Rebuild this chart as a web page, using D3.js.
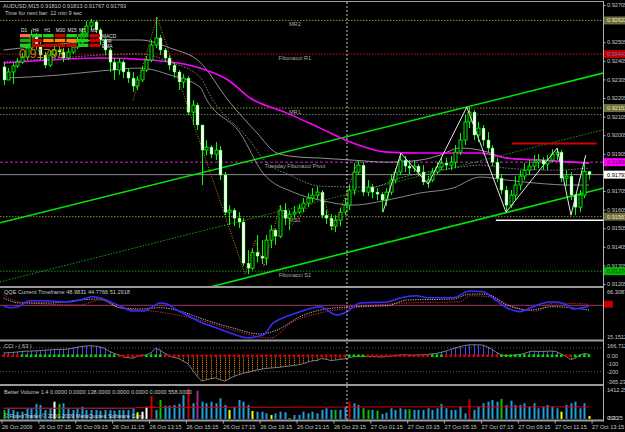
<!DOCTYPE html>
<html>
<head>
<meta charset="utf-8">
<script src="https://cdn.jsdelivr.net/npm/d3@7"></script>
<style>
  body { margin: 0; background: #000; }
  svg { display: block; }
  text { font-family: "Liberation Sans", Arial, sans-serif; }
</style>
</head>
<body>
<svg id="chart"></svg>
<script>
// ---- data ----
const firstOpen = 0.92372;
const closes = [
  0.92302,0.92345,0.92377,0.92398,0.92425,0.92474,0.92544,0.92490,0.92436,0.92382,
  0.92436,0.92463,0.92452,0.92420,0.92452,0.92479,0.92506,0.92554,0.92592,0.92614,
  0.92571,0.92517,0.92463,0.92398,0.92355,0.92398,0.92345,0.92312,0.92269,0.92302,
  0.92355,0.92409,0.92490,0.92528,0.92463,0.92420,0.92382,0.92345,0.92291,0.92312,
  0.92129,0.92167,0.92060,0.91925,0.91941,0.91903,0.91925,0.91791,0.91591,0.91602,
  0.91559,0.91538,0.91317,0.91290,0.91376,0.91355,0.91344,0.91441,0.91495,0.91462,
  0.91602,0.91559,0.91581,0.91591,0.91613,0.91640,0.91667,0.91683,0.91699,0.91575,
  0.91559,0.91516,0.91548,0.91591,0.91629,0.91710,0.91807,0.91844,0.91699,0.91726,
  0.91699,0.91688,0.91656,0.91699,0.91764,0.91807,0.91871,0.91839,0.91828,0.91839,
  0.91807,0.91753,0.91764,0.91807,0.91834,0.91855,0.91844,0.91860,0.91914,0.91979,
  0.92076,0.92129,0.92006,0.92043,0.91979,0.91936,0.91860,0.91774,0.91710,0.91629,
  0.91683,0.91737,0.91785,0.91817,0.91839,0.91860,0.91871,0.91850,0.91871,0.91903,
  0.91914,0.91774,0.91785,0.91683,0.91618,0.91683,0.91810,0.91793
];
const highs = [
  0.92398,0.92366,0.92393,0.92420,0.92447,0.92495,0.92571,0.92554,0.92506,0.92452,
  0.92463,0.92485,0.92495,0.92474,0.92474,0.92501,0.92533,0.92581,0.92619,0.92630,
  0.92624,0.92581,0.92528,0.92474,0.92420,0.92420,0.92409,0.92366,0.92345,0.92323,
  0.92377,0.92431,0.92517,0.92641,0.92544,0.92474,0.92436,0.92398,0.92355,0.92334,
  0.92323,0.92194,0.92178,0.92060,0.91979,0.91952,0.91968,0.91947,0.91807,0.91629,
  0.91613,0.91591,0.91559,0.91387,0.91398,0.91468,0.91441,0.91468,0.91522,0.91505,
  0.91629,0.91640,0.91602,0.91624,0.91634,0.91667,0.91694,0.91721,0.91731,0.91710,
  0.91602,0.91581,0.91575,0.91613,0.91667,0.91737,0.91855,0.91871,0.91860,0.91764,
  0.91742,0.91721,0.91699,0.91721,0.91796,0.91828,0.91909,0.91893,0.91871,0.91871,
  0.91850,0.91844,0.91785,0.91828,0.91860,0.91882,0.91882,0.91893,0.91952,0.92017,
  0.92113,0.92156,0.92140,0.92076,0.92060,0.92022,0.91952,0.91882,0.91796,0.91731,
  0.91710,0.91785,0.91817,0.91855,0.91871,0.91898,0.91903,0.91887,0.91898,0.91930,
  0.91936,0.91925,0.91817,0.91807,0.91688,0.91710,0.91882,0.91813
];
const lows = [
  0.92275,0.92312,0.92280,0.92366,0.92388,0.92409,0.92463,0.92463,0.92409,0.92366,
  0.92372,0.92425,0.92431,0.92398,0.92409,0.92442,0.92468,0.92490,0.92538,0.92571,
  0.92554,0.92490,0.92436,0.92345,0.92302,0.92329,0.92312,0.92286,0.92237,0.92248,
  0.92291,0.92345,0.92398,0.92474,0.92436,0.92398,0.92355,0.92312,0.92248,0.92259,
  0.92113,0.92060,0.92033,0.91737,0.91898,0.91882,0.91871,0.91764,0.91575,0.91522,
  0.91516,0.91505,0.91301,0.91258,0.91279,0.91322,0.91312,0.91306,0.91398,0.91414,
  0.91452,0.91522,0.91495,0.91559,0.91581,0.91591,0.91618,0.91645,0.91656,0.91559,
  0.91527,0.91495,0.91484,0.91516,0.91575,0.91602,0.91683,0.91791,0.91678,0.91678,
  0.91667,0.91656,0.91591,0.91624,0.91683,0.91747,0.91791,0.91807,0.91796,0.91807,
  0.91785,0.91737,0.91721,0.91753,0.91796,0.91817,0.91817,0.91817,0.91828,0.91898,
  0.91952,0.92043,0.91979,0.91968,0.91947,0.91914,0.91839,0.91753,0.91688,0.91591,
  0.91613,0.91656,0.91710,0.91764,0.91791,0.91817,0.91828,0.91817,0.91817,0.91860,
  0.91871,0.91753,0.91731,0.91656,0.91575,0.91591,0.91667,0.91767
];

// moving averages / bands, knots as [bar, price]
const magentaMA = [[0,0.92393],[10.1,0.92409],[20.9,0.92420],[32,0.92409],[42.6,0.92366],[48.7,0.92302],[53.5,0.92205],[61,0.92129],[68.7,0.92043],[75.8,0.91963],[83.2,0.91914],[90.3,0.91909],[103.4,0.91909],[109.2,0.91882],[116.4,0.91871],[123.5,0.91860],[127,0.91855]];
const bandUpper = [[0,0.92463],[5.7,0.92479],[12.3,0.92495],[20.9,0.92517],[29.6,0.92517],[36.1,0.92474],[42.6,0.92398],[48.7,0.92194],[55,0.92017],[59.3,0.91909],[64.3,0.91887],[68.7,0.91882],[75.8,0.91871],[83.2,0.91860],[90.3,0.91871],[94.7,0.91898],[99,0.91936],[103.4,0.91925],[109.2,0.91882],[116.4,0.91871],[123.5,0.91860],[127,0.91855]];
const bandMiddle = [[0,0.92398],[5.7,0.92409],[12.3,0.92420],[20.9,0.92436],[29.6,0.92442],[36.1,0.92398],[42.6,0.92318],[45.4,0.92194],[52.8,0.91995],[57.2,0.91855],[62.1,0.91791],[68.7,0.91731],[79.5,0.91726],[86.7,0.91780],[97.5,0.91828],[103.4,0.91844],[109.2,0.91828],[119.2,0.91817],[127,0.91828]];
const bandLower = [[0,0.92312],[5.7,0.92318],[12.3,0.92329],[20.9,0.92350],[29.6,0.92366],[36.1,0.92329],[42.6,0.92264],[44.1,0.92194],[51.3,0.92017],[56.3,0.91801],[62.8,0.91699],[68.7,0.91656],[75.8,0.91629],[83.2,0.91656],[90.3,0.91694],[97.5,0.91721],[103.4,0.91780],[109.2,0.91764],[115.7,0.91747],[122.9,0.91737],[127,0.91737]];

// zigzags and trend channel, [bar, price]
const orangeZigzag = [[28.1,0.92194],[33.3,0.92641],[52.4,0.91258],[54.6,0.91441],[56.5,0.91301],[60,0.91629],[62.6,0.91522],[69.1,0.91699],[71.5,0.91495],[76.7,0.91855]];
const whiteZigzag = [[82.3,0.91591],[86.2,0.91909],[92.1,0.91742],[100.5,0.92156],[109,0.91591],[120.1,0.91936],[123.1,0.91575],[126.3,0.91898]];
const channelUpper = [[0,0.91539],[127,0.92320]];
const channelMiddle = [[0,0.91221],[127,0.92015]];
const channelLower = [[0,0.90910],[127,0.91701]];
const resistanceLine = [[110.3,0.91960],[128.7,0.91960]];
const supportLine = [[106.8,0.91548],[131,0.91548]];

// pivot levels
const levelNames = ["MR2","Fibonacci R1","MR1","Tuesday  Fibonacci Pivot","MS1","Fibonacci S1"];
const levelPrices = [0.92622,0.92441,0.92151,0.91860,0.91567,0.91274];
const levelKinds = ["mid","fibR","mid","pivot","mid","fibS"];
const extraLevel = 0.92116;
const currentPrice = 0.91793;
const priceTicks = [0.92705,0.92505,0.92405,0.92305,0.92205,0.92105,0.92005,0.91905,0.91705,0.91605,0.91505,0.91405,0.91305,0.91205];

// QQE, knots as [bar, value]
const qqeMain = [[0,49.6],[1.4,47.4],[3.1,48.5],[5.7,55.2],[10.1,54.9],[13.8,53.7],[16.6,56.0],[19.2,59.6],[20.9,58.5],[23.1,54.1],[25.3,49.3],[28.1,43.7],[30.3,43.7],[32.4,48.5],[33.9,52.6],[35.5,51.5],[37.6,44.8],[39.8,39.1],[42.6,31.8],[46.3,24.8],[49.8,18.1],[52.8,14.0],[56.3,17.0],[58.5,30.4],[60.6,36.0],[64.3,42.9],[68.7,48.5],[72.3,39.3],[74.5,43.0],[77.3,52.6],[83.2,53.7],[86,58.2],[89.7,60.7],[91.9,58.5],[97.5,58.5],[101.2,66.0],[104,65.2],[106.2,58.2],[109.2,47.1],[112,43.0],[114.2,47.1],[116.4,51.5],[119.2,54.1],[122.2,50.4],[123.5,46.0],[126.6,48.5],[127,48.98]];
const qqeSlow = [[0,58.2],[3.6,52.6],[10.1,52.6],[16.6,56.0],[20.9,57.1],[25.3,47.4],[29.6,46.0],[33.9,47.4],[38.3,43.7],[42.6,35.9],[49.8,24.8],[55.6,18.1],[59.3,22.5],[64.3,37.4],[68.7,44.8],[75.8,48.5],[83.2,49.6],[87.5,55.9],[97.5,57.1],[101.2,62.6],[104.9,62.3],[109.2,50.4],[114.2,44.8],[119.2,48.5],[127,44.78]];
const qqeTrail = [[0,61.5],[3.6,53.7],[16.6,50.4],[20.9,56.0],[25.3,47.1],[33.3,43.0],[42.6,33.7],[49.8,22.6],[57.8,13.7],[62.8,31.8],[68.7,41.5],[75.8,47.1],[86.7,52.6],[99,54.1],[101.2,60.7],[105.5,59.6],[110.5,48.5],[115.7,43.7],[119.2,52.6],[127,51.29]];

// CCI(63) per bar and trend dots (r = down, g = up)
const cci = [
  35,38,42,48,55,58,60,62,65,70,
  75,78,80,82,85,95,108,118,125,128,
  120,110,90,55,30,12,-15,-25,-30,-10,
  10,5,40,95,70,30,-5,-20,-35,-70,
  -100,-180,-260,-320,-305,-290,-280,-305,-320,-290,
  -260,-240,-220,-210,-195,-180,-170,-160,-155,-150,
  -145,-135,-130,-120,-115,-100,-80,-65,-60,-35,
  -45,-60,-55,-45,-40,-25,-10,-8,-10,-12,
  -10,-12,-15,-10,-5,5,10,12,10,8,
  10,12,15,25,30,45,60,80,100,115,
  130,138,140,138,135,110,80,40,10,0,
  5,10,15,30,50,58,55,55,58,60,
  50,20,-5,-50,-30,5,30,15
];
const cciTrend = "rrrr" + "ggggggggggggggggggggg" + "rrrrrr" + "gggg" +
  "rrrrrrrrrrrrrrrrrrrrrrrrrrrrrrrrrrrrrrrr" + "gggg" + "rrrrrrrrrrrrrr" + "ggg" +
  "rrrrrrrrrrrr" + "gggggggggggggg" + "rr" + "gggg";
const cciTicks = [166.712, 0, -100, -200, -365.237];
const cciLevels = [100, -200];

// Better Volume per bar, with bar type
const volumes = [
  414,493,414,335,335,493,493,693,646,414,
  493,800,693,725,493,414,493,567,414,414,
  414,381,414,414,381,414,414,414,493,307,
  335,567,1065,414,879,614,614,646,693,1111,
  1400,725,1310,800,725,800,725,958,646,414,
  567,879,800,646,367,335,335,260,181,260,
  335,307,28,181,181,335,260,335,260,414,
  493,414,414,414,567,800,725,646,493,414,
  414,381,228,288,493,414,493,446,446,414,
  414,414,493,414,493,693,493,414,414,567,
  260,911,414,567,725,800,879,800,925,646,
  846,646,646,725,567,725,493,567,646,567,
  493,335,646,725,800,493,725,138
];
const volumeTypes = "g" + "bbbbbbbbbb" + "w" + "g" + "bbbbbbbbbbbbbbbb" + "y" + "ww" + "r" + "b" + "g" +
  "bbbbb" + "r" + "b" + "m" + "bbbbbb" + "y" + "bbbb" + "y" + "bbb" + "y" + "bbb" + "y" +
  "bbbbbbbbb" + "g" + "bb" + "r" + "bb" + "gg" + "b" + "g" + "bbbbbb" + "g" +
  "bbbbbbbbbbbb" + "r" + "bbbbbb" + "g" + "bbbbbbbbbbbb" + "y" + "bbbbb" + "y";
const volumeAvg = [[0,493],[28,493],[29,530],[60,540],[90,560],[127,558]];
const volTicks = [1412.25, 0, -52.25];
const qqeTicks = [66.3087, 15.1512];

// time axis
const timeTickBars = d3.range(0, 129, 8);
const timeLabels = ["26 Oct 2009","26 Oct 07:15","26 Oct 09:15","26 Oct 11:15","26 Oct 13:15","26 Oct 15:15",
  "26 Oct 17:15","26 Oct 19:15","26 Oct 21:15","26 Oct 23:15","27 Oct 01:15","27 Oct 03:15",
  "27 Oct 05:15","27 Oct 07:15","27 Oct 09:15","27 Oct 11:15","27 Oct 13:15"];
const separatorBar = 75;

// signal panel
const timeframes = ["D1","H4","H1","M30","M15","M5","M1"];
const signalRows = ["MACD","STR","EMA"];
const signalStates = ["wuudund", "ndaaaud", "uddddud"];

// ---- drawing ----
const W = 625, H = 432, AX = 603;
const FS = 5.6, TXT = "#c8c8c8";

const svg = d3.select("#chart").attr("width", W).attr("height", H);
svg.append("rect").attr("width", W).attr("height", H).attr("fill", "#000");

const x = d3.scaleLinear().domain([0, 128]).range([3.5, 593.6]);
const yP = d3.scaleLinear().domain([0.92705, 0.91205]).range([5, 284]);
const yQ = d3.scaleLinear().domain([66.3087, 15.1512]).range([290.7, 336.7]);
const yC = d3.scaleLinear().domain([166.712, -365.237]).range([342.6, 384.6]);
const yV = d3.scaleLinear().domain([1412.25, -52.25]).range([388.5, 420]);

const panes = { main: [2, 286], qqe: [288, 339.5], cci: [341.5, 384], vol: [386, 420] };
const defs = svg.append("defs");
Object.entries(panes).forEach(([k, [t, b]]) => {
  defs.append("clipPath").attr("id", "clip-" + k)
    .append("rect").attr("x", 0).attr("y", t).attr("width", AX).attr("height", b - t);
});
const layer = k => svg.append("g").attr("clip-path", `url(#clip-${k})`);

const curve = (ys, pts) => d3.line().x(d => x(d[0])).y(d => ys(d[1])).curve(d3.curveMonotoneX)(pts);
const straight = (ys, pts) => d3.line().x(d => x(d[0])).y(d => ys(d[1]))(pts);
// extend a two point line over the whole pane
const ray = (ys, pts) => {
  const [a, b] = pts;
  const k = (b[1] - a[1]) / (b[0] - a[0]);
  const i0 = x.invert(0), i1 = x.invert(AX);
  return straight(ys, [[i0, a[1] + k * (i0 - a[0])], [i1, a[1] + k * (i1 - a[0])]]);
};

// ===== main pane =====
const gm = layer("main");

// pivot levels
const levelStyle = {
  mid: { c: "#8c8c2a", d: "1.5,1.5" },
  fibR: { c: "#d01010", d: "1.5,1.5" },
  pivot: { c: "#d020d0", d: "3,2" },
  fibS: { c: "#10a010", d: "1.5,1.5" }
};
gm.append("line").attr("x1", 0).attr("x2", AX).attr("y1", yP(extraLevel)).attr("y2", yP(extraLevel))
  .attr("stroke", "#707070").attr("stroke-dasharray", "1.5,1.5");
levelPrices.forEach((p, i) => {
  const s = levelStyle[levelKinds[i]];
  gm.append("line").attr("x1", 0).attr("x2", AX).attr("y1", yP(p)).attr("y2", yP(p))
    .attr("stroke", s.c).attr("stroke-dasharray", s.d);
  gm.append("text").attr("x", x(63.2)).attr("y", yP(p) + 5.5).attr("text-anchor", "middle")
    .attr("font-size", FS).attr("fill", "#a8a8a8").text(levelNames[i]);
});
gm.append("line").attr("x1", 0).attr("x2", AX).attr("y1", yP(currentPrice)).attr("y2", yP(currentPrice))
  .attr("stroke", "#8a8a8a");

// channel
gm.append("path").attr("d", ray(yP, channelMiddle)).attr("stroke", "#1a9a1a").attr("stroke-width", 1)
  .attr("stroke-dasharray", "1.5,1.5").attr("fill", "none");
[channelUpper, channelLower].forEach(c => {
  gm.append("path").attr("d", ray(yP, c)).attr("stroke", "#00e600").attr("stroke-width", 1.6).attr("fill", "none");
});

// bands and moving average
gm.append("path").attr("d", curve(yP, bandUpper)).attr("stroke", "#b8b8b8").attr("stroke-width", 0.8).attr("fill", "none");
gm.append("path").attr("d", curve(yP, bandMiddle)).attr("stroke", "#a0a0a0").attr("stroke-width", 0.8)
  .attr("stroke-dasharray", "1.5,1.5").attr("fill", "none");
gm.append("path").attr("d", curve(yP, bandLower)).attr("stroke", "#a8a8a8").attr("stroke-width", 0.8).attr("fill", "none");
gm.append("path").attr("d", curve(yP, magentaMA)).attr("stroke", "#ff00ff").attr("stroke-width", 1.6).attr("fill", "none");

// candles
const bars = closes.map((c, i) => {
  const o = i === 0 ? firstOpen : closes[i - 1];
  return { i, o, c, h: Math.max(highs[i], o, c), l: Math.min(lows[i], o, c) };
});
const cg = gm.append("g");
cg.selectAll(".wick").data(bars).join("line")
  .attr("x1", d => Math.round(x(d.i)) + 0.5).attr("x2", d => Math.round(x(d.i)) + 0.5)
  .attr("y1", d => yP(d.h)).attr("y2", d => yP(d.l))
  .attr("stroke", "#00ff00").attr("stroke-width", 1);
cg.selectAll(".body").data(bars).join("rect")
  .attr("x", d => Math.round(x(d.i)) - 1)
  .attr("width", 3)
  .attr("y", d => Math.min(yP(d.o), yP(d.c)))
  .attr("height", d => Math.max(1, Math.abs(yP(d.o) - yP(d.c))))
  .attr("fill", d => d.c < d.o ? "#ffffff" : "#000000")
  .attr("stroke", "#00ff00").attr("stroke-width", d => d.c < d.o ? 0.4 : 0.9);

// zigzags, support/resistance
gm.append("path").attr("d", straight(yP, orangeZigzag)).attr("stroke", "#c8821e").attr("stroke-width", 1)
  .attr("stroke-dasharray", "1,1.5").attr("fill", "none");
gm.append("path").attr("d", straight(yP, whiteZigzag)).attr("stroke", "#e4e4e4").attr("stroke-width", 1).attr("fill", "none");
gm.append("path").attr("d", straight(yP, resistanceLine)).attr("stroke", "#cc0000").attr("stroke-width", 2);
gm.append("path").attr("d", straight(yP, supportLine)).attr("stroke", "#ffffff").attr("stroke-width", 1.6);

// big price, title
svg.append("text").attr("x", 19).attr("y", 58).attr("font-size", 12.5).attr("fill", "#d88a12")
  .attr("opacity", 0.92).text(currentPrice.toFixed(5));
svg.append("text").attr("x", 3).attr("y", 8).attr("font-size", FS).attr("fill", TXT)
  .text("AUDUSD,M15  0.91810 0.91813 0.91767 0.91793");
svg.append("text").attr("x", 5).attr("y", 14.5).attr("font-size", FS).attr("fill", TXT)
  .text("Time for next bar: 12 min 9 sec");

// signal panel
const col = d3.scaleBand().domain(timeframes).range([20, 100]).paddingInner(0.1);
const row = d3.scaleBand().domain(signalRows).range([34, 47]).paddingInner(0.3);
const stateColor = { u: "#22d022", d: "#cc0000", a: "#ff8c00", n: "#10b010", w: "#ff6a50" };
timeframes.forEach(t => {
  svg.append("text").attr("x", col(t) + 1).attr("y", 32).attr("font-size", 4.8).attr("fill", "#e0e0e0").text(t);
});
signalRows.forEach((r, ri) => {
  timeframes.forEach((t, ti) => {
    svg.append("rect").attr("x", col(t)).attr("y", row(r)).attr("width", col.bandwidth()).attr("height", row.bandwidth())
      .attr("fill", stateColor[signalStates[ri][ti]]);
  });
  svg.append("text").attr("x", 102).attr("y", row(r) + row.bandwidth() + 0.6).attr("font-size", 4.8)
    .attr("fill", "#e0e0e0").text(r);
});

// ===== QQE pane =====
const gq = layer("qqe");
gq.append("line").attr("x1", 0).attr("x2", AX).attr("y1", yQ(50)).attr("y2", yQ(50))
  .attr("stroke", "#7d2c4e").attr("stroke-width", 1.3);
gq.append("path").attr("d", curve(yQ, qqeTrail)).attr("stroke", "#ff2a2a").attr("stroke-width", 0.9)
  .attr("stroke-dasharray", "1.2,1.2").attr("fill", "none");
gq.append("path").attr("d", curve(yQ, qqeSlow)).attr("stroke", "#d8d8d8").attr("stroke-width", 0.9)
  .attr("stroke-dasharray", "1.2,1.2").attr("fill", "none");
gq.append("path").attr("d", curve(yQ, qqeMain)).attr("stroke", "#3a2cff").attr("stroke-width", 1.6).attr("fill", "none");
svg.append("text").attr("x", 4).attr("y", 294).attr("font-size", FS).attr("fill", TXT)
  .text("QQE Current Timeframe 48.9831 44.7766 51.2918");

// ===== CCI pane =====
const gc = layer("cci");
cciLevels.forEach(v => {
  gc.append("line").attr("x1", 0).attr("x2", AX).attr("y1", yC(v)).attr("y2", yC(v))
    .attr("stroke", "#5a5a5a").attr("stroke-dasharray", "1,2");
});
gc.selectAll(".hist").data(cci).join("line")
  .attr("x1", (d, i) => Math.round(x(i)) + 0.5).attr("x2", (d, i) => Math.round(x(i)) + 0.5)
  .attr("y1", yC(0)).attr("y2", d => yC(d))
  .attr("stroke", d => d >= 0 ? "#4646ff" : "#ff8a00")
  .attr("stroke-dasharray", d => d >= 0 ? null : "1,1");
gc.append("path").attr("d", d3.line().x((d, i) => x(i)).y(d => yC(d))(cci))
  .attr("stroke", "#b0b0b0").attr("stroke-width", 0.7).attr("fill", "none");
gc.selectAll(".dot").data(cci).join("rect")
  .attr("x", (d, i) => x(i) - 1.3).attr("y", yC(0) - 1.3).attr("width", 2.6).attr("height", 2.6)
  .attr("fill", (d, i) => cciTrend[i] === "g" ? "#00e000" : "#e00000");
svg.append("text").attr("x", 4).attr("y", 347.5).attr("font-size", FS).attr("fill", TXT).text("CCI - ( 63 )");

// ===== Volume pane =====
const gv = layer("vol");
const volColor = { b: "#1e9fe0", g: "#00c800", w: "#ffffff", r: "#cc0000", y: "#ffff00", m: "#9a2d8e" };
gv.selectAll(".vbar").data(volumes).join("rect")
  .attr("x", (d, i) => Math.round(x(i)) - 0.5).attr("width", 2)
  .attr("y", d => yV(d)).attr("height", d => yV(0) - yV(d))
  .attr("fill", (d, i) => volColor[volumeTypes[i]]);
gv.append("path").attr("d", straight(yV, volumeAvg)).attr("stroke", "#d00000").attr("stroke-width", 1).attr("fill", "none");
gv.append("path").attr("d", straight(yV, volumeAvg.slice(0, 2))).attr("stroke", "#7a2a48").attr("stroke-width", 1.2).attr("fill", "none");
svg.append("text").attr("x", 4).attr("y", 393.5).attr("font-size", FS).attr("fill", TXT)
  .text("Better Volume 1.4 0.0000 0.0000 138.0000 0.0000 0.0000 0.0000 558.0000");
svg.append("text").attr("x", 4).attr("y", 418).attr("font-size", FS).attr("fill", "#e8e8e8").attr("opacity", 0.85)
  .text("© ForexTrader © 2001-2009 MetaQuotes Software Corp.");

// ===== frame =====
svg.append("line").attr("x1", 0).attr("x2", AX).attr("y1", 1.5).attr("y2", 1.5).attr("stroke", "#a0a0a0");
[286, 339.5, 384, 419.5].forEach(y => {
  svg.append("rect").attr("x", 0).attr("y", y).attr("width", AX + 1).attr("height", 2).attr("fill", "#9a9a9a");
});
svg.append("line").attr("x1", AX + 0.5).attr("x2", AX + 0.5).attr("y1", 1).attr("y2", 421.5).attr("stroke", "#b0b0b0");

// period separator
svg.append("line").attr("x1", x(separatorBar) - 2.3).attr("x2", x(separatorBar) - 2.3)
  .attr("y1", 2).attr("y2", 420).attr("stroke", "#c8c8c8").attr("stroke-dasharray", "2,2");

// ===== axes =====
const styleAxis = g => {
  g.select(".domain").remove();
  g.selectAll("line").attr("stroke", "#b0b0b0");
  g.selectAll("text").attr("fill", TXT).attr("font-size", FS).attr("font-family", "Liberation Sans, Arial, sans-serif");
};
svg.append("g").attr("transform", `translate(${AX},0)`)
  .call(d3.axisRight(yP).tickValues(priceTicks).tickFormat(d3.format(".5f")).tickSize(2.5).tickPadding(1.5))
  .call(styleAxis);

const sideLabels = (ys, ticks, fmt, top, bottom) => {
  ticks.forEach(v => {
    const y = Math.max(top + 4.5, Math.min(bottom - 2, ys(v)));
    svg.append("text").attr("x", 607).attr("y", y).attr("dy", "0.35em").attr("font-size", FS).attr("fill", TXT).text(fmt(v));
  });
};
sideLabels(yQ, qqeTicks, d3.format(".4f"), 288, 339.5);
sideLabels(yC, cciTicks, v => v === 0 ? "0.00" : (Number.isInteger(v) ? String(v) : v.toFixed(3)), 341.5, 384);
sideLabels(yV, volTicks, v => v === 0 ? "0.00" : v.toFixed(2), 386, 420);
svg.append("rect").attr("x", AX + 1).attr("y", yQ(51.29) - 3.5).attr("width", 9).attr("height", 7).attr("fill", "#c00000");

// level boxes on the price scale
const boxStyle = {
  mid: { f: "#6e6e3c", t: "#e4e4c4" },
  fibR: { f: "#c00000", t: "#7070c0" },
  pivot: { f: "#ff00ff", t: "#5a005a" },
  fibS: { f: "#00b400", t: "#005a00" },
  cur: { f: "#ffffff", t: "#000000" }
};
const boxes = levelPrices.map((p, i) => ({ p, k: levelKinds[i] })).concat([{ p: currentPrice, k: "cur" }]);
boxes.forEach(b => {
  const s = boxStyle[b.k];
  svg.append("rect").attr("x", AX + 1).attr("y", yP(b.p) - 4).attr("width", W - AX).attr("height", 8).attr("fill", s.f);
  svg.append("text").attr("x", 607).attr("y", yP(b.p)).attr("dy", "0.35em").attr("font-size", FS)
    .attr("fill", s.t).text(b.p.toFixed(5));
});

// time axis
const tx = svg.append("g").attr("transform", "translate(-2,421)")
  .call(d3.axisBottom(x).tickValues(timeTickBars).tickFormat((d, i) => timeLabels[i]).tickSize(2.5).tickPadding(1.5))
  .call(styleAxis);
tx.selectAll("text").attr("text-anchor", "start");
</script>
</body>
</html>
